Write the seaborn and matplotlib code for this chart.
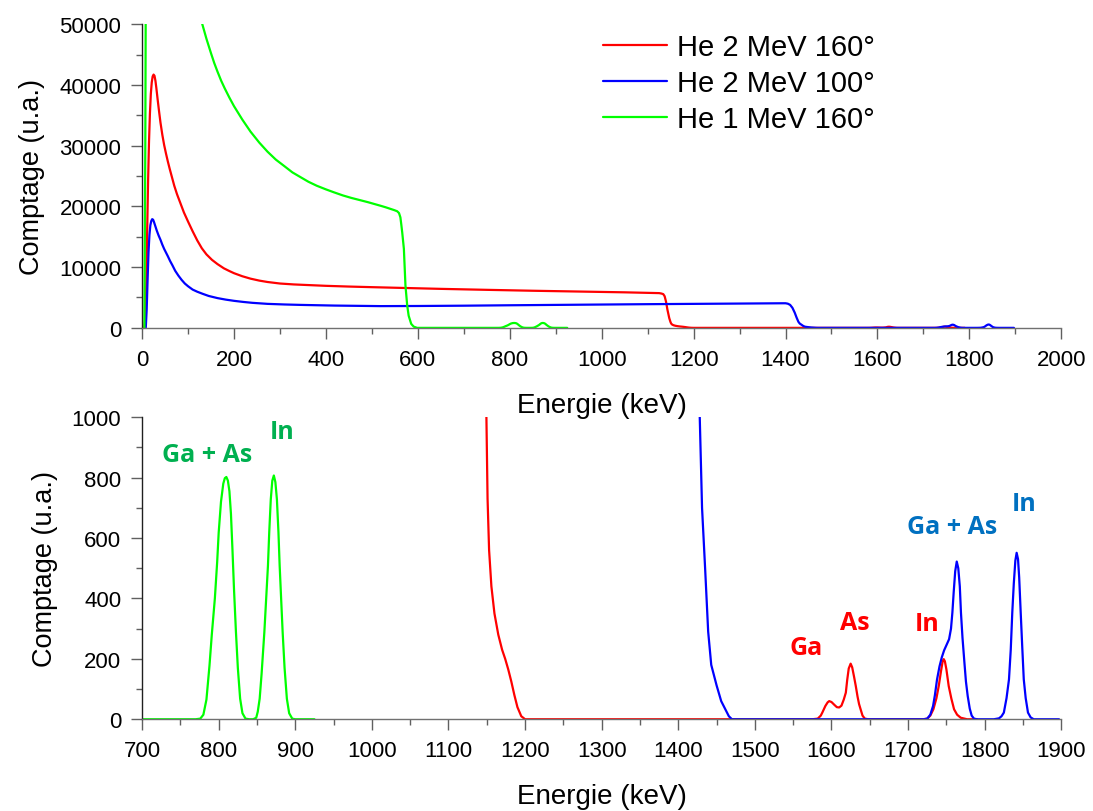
import numpy as np
import pandas as pd
import matplotlib
matplotlib.use("Agg")
import matplotlib.pyplot as plt
from matplotlib.ticker import MultipleLocator
import seaborn as sns

# Spectres RBS simulés (énergie en keV, comptage en u.a.)
red_e = [5, 7, 9, 11, 13, 15, 17, 19, 21, 23, 25, 27, 29, 31, 34, 37, 40, 44, 48, 52, 56,
         60, 65, 70, 76, 83, 91, 100, 110, 120, 130, 140, 152, 164, 178, 190, 200, 218, 236,
         255, 273, 300, 330, 360, 400, 450, 500, 564, 650, 750, 850, 950, 1050, 1125, 1130,
         1134, 1137, 1140, 1143, 1147, 1149.5, 1151, 1153, 1156, 1160, 1165, 1170, 1174,
         1178, 1182, 1186, 1190, 1195, 1200, 1300, 1400, 1500, 1575, 1582, 1586, 1588, 1592,
         1595, 1597, 1600, 1604, 1607, 1610, 1613, 1616, 1618.7, 1620.5, 1622.5, 1625, 1627,
         1629.5, 1631.7, 1634, 1636, 1638, 1640.5, 1643.5, 1648, 1700, 1720, 1725, 1729,
         1733, 1737, 1740, 1743, 1745, 1746.5, 1748, 1750, 1753, 1756.5, 1760, 1764, 1768.7,
         1777, 1790]
red_c = [0, 1500, 7000, 15700, 24000, 30500, 35200, 38500, 40400, 41400, 41700, 41500, 40700,
         39500, 37500, 35600, 33800, 31800, 30100, 28700, 27400, 26200, 24800, 23400, 22000,
         20600, 19000, 17500, 15900, 14400, 13100, 12100, 11200, 10500, 9800, 9350, 9000,
         8500, 8100, 7780, 7550, 7300, 7150, 7050, 6920, 6800, 6700, 6580, 6420, 6260, 6110,
         5980, 5850, 5720, 5650, 5550, 5200, 4300, 3000, 1600, 1000, 730, 560, 440, 350, 280,
         230, 200, 165, 125, 80, 40, 10, 0, 0, 0, 0, 0, 2, 12, 22, 44, 56, 60, 57, 47, 40, 39,
         45, 65, 88, 130, 168, 184, 172, 140, 110, 75, 50, 33, 12, 2, 0, 0, 0, 2, 12, 33, 70,
         110, 160, 190, 199, 192, 165, 110, 68, 33, 15, 5, 0, 0]

blue_e = [8, 10, 12, 14, 16, 18, 20, 22, 24, 26, 29, 32, 36, 40, 44, 48, 52, 56, 61, 66, 72,
          79, 86, 93, 100, 110, 120, 132, 145, 164, 182, 200, 220, 240, 273, 310, 345, 418,
          519, 600, 700, 800, 900, 1000, 1100, 1200, 1300, 1395, 1400, 1405, 1410, 1415, 1420,
          1424, 1428, 1431, 1435, 1439, 1443, 1450, 1456, 1461, 1466, 1470, 1600, 1720, 1725,
          1729, 1732.6, 1735, 1737.8, 1741, 1744, 1747, 1750, 1753.5, 1756, 1757.8, 1759.5,
          1761.5, 1763.5, 1765.5, 1767.5, 1769, 1771, 1773.5, 1775.5, 1777.8, 1780.5, 1783,
          1786, 1790, 1812, 1818.7, 1822, 1825, 1828.5, 1831.7, 1834, 1836, 1838, 1840, 1841.7,
          1843.5, 1845, 1847, 1849, 1851, 1853.5, 1856.5, 1860, 1864, 1897]
blue_c = [0, 3000, 8000, 12500, 15300, 16900, 17600, 17900, 17800, 17400, 16700, 16000, 15200,
          14500, 13700, 13000, 12400, 11800, 11000, 10300, 9400, 8600, 7900, 7300, 6850, 6300,
          5950, 5600, 5250, 4900, 4650, 4450, 4270, 4120, 3950, 3850, 3780, 3670, 3580, 3600,
          3650, 3720, 3780, 3840, 3900, 3950, 4000, 4050, 4050, 3980, 3780, 3300, 2500, 1700,
          1000, 700, 500, 290, 180, 112, 60, 35, 10, 0, 0, 0, 2, 15, 44, 80, 132, 175, 205,
          228, 245, 265, 300, 353, 420, 490, 522, 500, 440, 353, 270, 188, 125, 77, 35, 12, 2,
          0, 0, 3, 10, 22, 70, 132, 230, 353, 450, 525, 551, 530, 470, 353, 240, 132, 70, 22,
          6, 0, 0]

green_e = [5, 7, 9, 12, 40, 80, 110, 131, 140, 150, 157, 164, 172, 180, 190, 200, 218, 236,
           255, 273, 291, 310, 327, 345, 362, 380, 400, 418, 437, 455, 473, 491, 505, 519, 530,
           540, 548, 555, 559, 562, 564, 566, 569.6, 573, 576.8, 580, 585.5, 591, 598.5, 700,
           770, 776, 780, 784, 788, 791, 795, 798, 800, 803, 806, 808, 810, 812, 814, 816, 818,
           820, 822.5, 825, 828, 831, 835, 840, 845, 849, 851, 853.5, 856, 859.6, 862, 864.3,
           866, 868, 870, 872, 874, 876, 878, 879.6, 881.5, 883.5, 886, 889, 892, 896, 900, 925]
green_c = [0, 30000, 80000, 150000, 110000, 78000, 60000, 50000, 47600, 45200, 43600, 42200,
           40700, 39400, 37900, 36500, 34300, 32300, 30500, 29000, 27700, 26600, 25600, 24800,
           24050, 23400, 22800, 22300, 21800, 21400, 21050, 20700, 20400, 20100, 19850, 19600,
           19400, 19200, 18900, 18200, 17000, 15700, 13000, 7000, 3700, 2000, 660, 200, 0, 0,
           0, 2, 15, 65, 178, 280, 400, 520, 618, 720, 780, 798, 802, 790, 755, 680, 560, 430,
           290, 170, 68, 20, 2, 0, 0, 5, 25, 68, 150, 288, 400, 508, 620, 728, 790, 807, 785,
           728, 620, 508, 400, 288, 170, 68, 20, 2, 0, 0]

series_names = ["He 2 MeV 160°", "He 2 MeV 100°", "He 1 MeV 160°"]
series_colors = ["#FF0000", "#0000FF", "#00FF00"]

df = pd.concat([
    pd.DataFrame({"Energie": red_e, "Comptage": red_c, "serie": series_names[0]}),
    pd.DataFrame({"Energie": blue_e, "Comptage": blue_c, "serie": series_names[1]}),
    pd.DataFrame({"Energie": green_e, "Comptage": green_c, "serie": series_names[2]}),
], ignore_index=True)

# Annotations (élément, x, y, couleur)
labels_txt = ["Ga + As", "In", "Ga", "As", "In", "Ga + As", "In"]
labels_x = [785, 883, 1567, 1631, 1725, 1758, 1852]
labels_y = [877, 953, 238, 321, 318, 639, 715]
labels_col = ["#00B050", "#00B050", "#FF0000", "#FF0000", "#FF0000", "#0070C0", "#0070C0"]

sns.set_style("ticks")
plt.rcParams["font.family"] = ["Liberation Sans", "DejaVu Sans"]
plt.rcParams["text.color"] = "black"
plt.rcParams["axes.labelcolor"] = "black"
plt.rcParams["xtick.labelcolor"] = "black"
plt.rcParams["ytick.labelcolor"] = "black"

fig = plt.figure(figsize=(10.93, 8.12), dpi=100)
ax1 = fig.add_axes([0.130, 0.595, 0.841, 0.374])
ax2 = fig.add_axes([0.130, 0.113, 0.841, 0.372])
ax2.patch.set_visible(False)

palette = dict(zip(series_names, series_colors))

for ax, show_leg in [(ax1, True), (ax2, False)]:
    sns.lineplot(data=df, x="Energie", y="Comptage", hue="serie", hue_order=series_names,
                 palette=palette, estimator=None, sort=False, linewidth=1.6,
                 legend=show_leg, ax=ax)

# Top plot
ax1.set_xlim(0, 2000)
ax1.set_ylim(0, 50000)
ax1.xaxis.set_major_locator(MultipleLocator(200))
ax1.xaxis.set_minor_locator(MultipleLocator(100))
ax1.yaxis.set_major_locator(MultipleLocator(10000))
ax1.yaxis.set_minor_locator(MultipleLocator(5000))

# Bottom plot (zoom)
ax2.set_xlim(700, 1900)
ax2.set_ylim(0, 1000)
ax2.xaxis.set_major_locator(MultipleLocator(100))
ax2.xaxis.set_minor_locator(MultipleLocator(50))
ax2.yaxis.set_major_locator(MultipleLocator(200))
ax2.yaxis.set_minor_locator(MultipleLocator(100))

for ax in (ax1, ax2):
    ax.set_xlabel("Energie (keV)", fontsize=20, labelpad=16, color="black")
    ax.set_ylabel("Comptage (u.a.)", fontsize=19.5, labelpad=10, color="black")
    ax.tick_params(which="major", direction="out", length=8, width=1, color="#606060",
                   labelsize=16, pad=7, labelcolor="black")
    ax.tick_params(which="minor", direction="out", length=4, width=1, color="#606060")
    sns.despine(ax=ax)
    ax.spines["left"].set_color("#202020")
    ax.spines["bottom"].set_color("#707070")
    ax.spines["left"].set_linewidth(1)
    ax.spines["bottom"].set_linewidth(1)

leg = ax1.get_legend()
handles = leg.legend_handles
names = [t.get_text() for t in leg.get_texts()]
ax1.legend(handles, names, loc="upper left", bbox_to_anchor=(0.501, 0.97), frameon=False,
           fontsize=21, handlelength=2.2, handletextpad=0.35, labelspacing=0.27,
           borderpad=0, borderaxespad=0, labelcolor="black")

for txt, x, y, c in zip(labels_txt, labels_x, labels_y, labels_col):
    ax2.text(x, y, txt, color=c, fontsize=18, fontweight="bold", family="Open Sans",
             ha="center", va="center")

fig.savefig("out.png", dpi=100)
